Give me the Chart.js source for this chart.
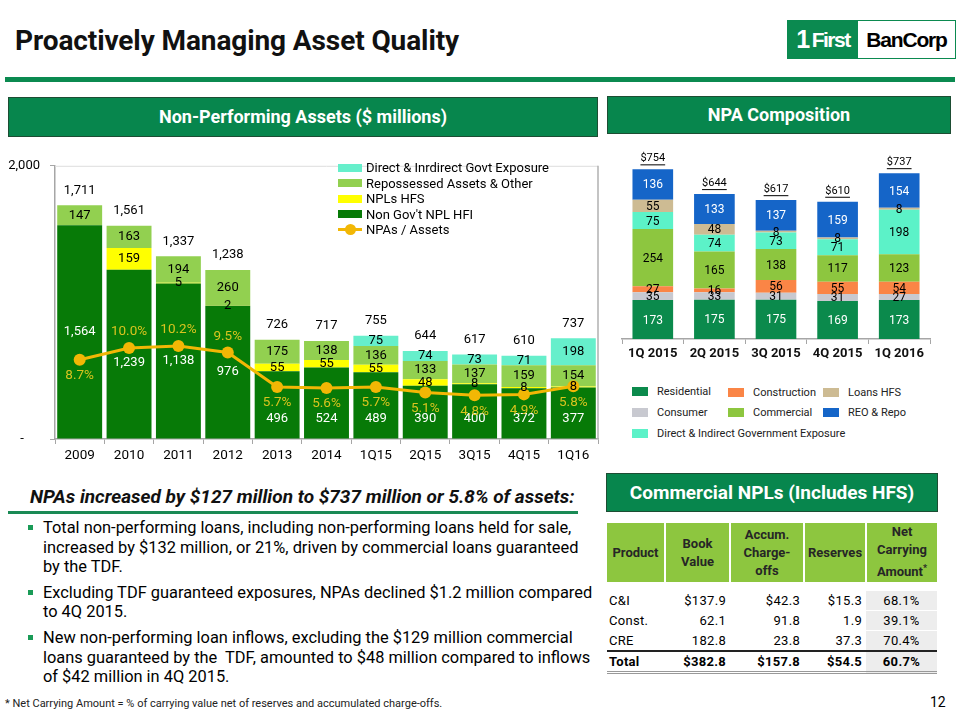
<!DOCTYPE html>
<html>
<head>
<meta charset="utf-8">
<script src="https://cdn.jsdelivr.net/npm/chart.js@4/dist/chart.umd.min.js"></script>
<style>
	body { margin: 0; background: #fff; }
	#slide { position: relative; width: 960px; height: 720px; overflow: hidden; font-family: Roboto, "Liberation Sans", sans-serif; color: #000; }
	.abs { position: absolute; }
	#title { left: 15px; top: 24px; font-size: 28px; font-weight: bold; color: #111; letter-spacing: -0.1px; }
	#rule { left: 5px; top: 77px; width: 950px; height: 5px; background: #0B8A50; }
	.hdr { background: #07864D; color: #fff; font-weight: bold; text-align: center; border: 1px solid #1d4d33; box-sizing: border-box; }
	#logo { left: 787px; top: 20px; width: 169px; height: 39px; border: 1px solid #0B8A50; box-sizing: border-box; display: flex; }
	#logo .g { width: 70px; background: #0B8A50; color: #fff; font: bold 21px "Liberation Sans", sans-serif; letter-spacing: -1.5px; display: flex; align-items: center; justify-content: center; }
	#logo .g b { font-size: 25px; margin-right: 3px; }
	#logo .w { flex: 1; color: #000; font: bold 21px "Liberation Sans", sans-serif; letter-spacing: -1.2px; display: flex; align-items: center; justify-content: center; }
	.leg { font-size: 13px; line-height: 15.5px; }
	.leg div { display: flex; align-items: center; white-space: nowrap; }
	.sw { display: inline-block; width: 24px; height: 8px; margin-right: 4px; }
	.leg2 { font-size: 11px; color: #222; }
	.leg2 .it { position: absolute; display: flex; align-items: center; white-space: nowrap; }
	.leg2 .sw { width: 16px; height: 9px; margin-right: 9px; }
	#bul { left: 22px; top: 518px; font-size: 16.4px; line-height: 19.6px; white-space: nowrap; }
	#bul p { margin: 0 0 6px 0; padding-left: 21px; position: relative; }
	#bul p:before { content: ""; position: absolute; left: 6px; top: 7px; width: 5px; height: 5px; background: #1A9B57; }
	table { border-collapse: collapse; font-size: 13px; }
	#tbl { left: 607px; top: 523px; width: 330px; }
	#tbl th { background: #8DC63F; color: #262626; font-weight: bold; height: 59px; border-left: 2px solid #fff; line-height: 18px; padding: 0; }
	#tbl th:first-child { border-left: none; }
	#tbl td { height: 19px; padding: 0 4px; text-align: right; letter-spacing: 0.3px; }
	#tbl td:first-child { text-align: left; padding-left: 2px; }
	#tbl td.nc { background: #EDEDED; text-align: center; border-bottom: 1px solid #fff; }
	#tbl tr.tot td { font-weight: bold; border-top: 2px solid #222; border-bottom: 3px double #999; }
</style>
</head>
<body>
<div id="slide">
	<div id="title" class="abs">Proactively Managing Asset Quality</div>
	<div id="logo" class="abs"><div class="g"><b>1</b>First</div><div class="w">BanCorp</div></div>
	<div id="rule" class="abs"></div>

	<div class="abs hdr" style="left:8px;top:97px;width:590px;height:40px;line-height:38px;font-size:18px;">Non-Performing Assets ($ millions)</div>
	<div class="abs hdr" style="left:607px;top:96px;width:344px;height:38px;line-height:36px;font-size:18px;">NPA Composition</div>

	<canvas id="npaChart" class="abs" style="left:0;top:148px;" width="610" height="326"></canvas>
	<div class="abs leg" style="left:338px;top:160px;">
		<div><span class="sw" style="background:#66EFCB"></span>Direct &amp; Inrdirect Govt Exposure</div>
		<div><span class="sw" style="background:#92D050"></span>Repossessed Assets &amp; Other</div>
		<div><span class="sw" style="background:#FFFF00"></span>NPLs HFS</div>
		<div><span class="sw" style="background:#077A07"></span>Non Gov't NPL HFI</div>
		<div><span class="sw" style="position:relative;background:none;border-top:3px solid #F2B705;height:0;"><span style="position:absolute;left:7px;top:-7px;width:11px;height:11px;border-radius:50%;background:#F2B705"></span></span>NPAs / Assets</div>
	</div>

	<canvas id="compChart" class="abs" style="left:612px;top:140px;" width="330" height="229"></canvas>
	<div class="abs leg2" style="left:0;top:0;">
		<div class="it" style="left:632px;top:385px;"><span class="sw" style="background:#0B8A4C"></span>Residential</div>
		<div class="it" style="left:728px;top:386px;"><span class="sw" style="background:#FA8546"></span>Construction</div>
		<div class="it" style="left:823px;top:386px;"><span class="sw" style="background:#CDBB93"></span>Loans HFS</div>
		<div class="it" style="left:632px;top:406px;"><span class="sw" style="background:#C8C9D0"></span>Consumer</div>
		<div class="it" style="left:728px;top:406px;"><span class="sw" style="background:#8DC63F"></span>Commercial</div>
		<div class="it" style="left:823px;top:406px;"><span class="sw" style="background:#1565C8"></span>REO &amp; Repo</div>
		<div class="it" style="left:632px;top:427px;"><span class="sw" style="background:#5CF2C8"></span>Direct &amp; Indirect Government Exposure</div>
	</div>

	<div class="abs" style="left:30px;top:485px;font-size:19px;font-weight:bold;font-style:italic;color:#111;">NPAs increased by $127 million to $737 million or 5.8% of assets:</div>
	<div class="abs" style="left:8px;top:511px;width:570px;height:3px;background:#1A8A55;"></div>
	<div id="bul" class="abs">
		<p>Total non-performing loans, including non-performing loans held for sale,<br>increased by $132 million, or 21%, driven by commercial loans guaranteed<br>by the TDF.</p>
		<p>Excluding TDF guaranteed exposures, NPAs declined $1.2 million compared<br>to 4Q 2015.</p>
		<p>New non-performing loan inflows, excluding the $129 million commercial<br>loans guaranteed by the&nbsp; TDF, amounted to $48 million compared to inflows<br>of $42 million in 4Q 2015.</p>
	</div>
	<div class="abs" style="left:5px;top:697px;font-size:11px;color:#222;">* Net Carrying Amount = % of carrying value net of reserves and accumulated charge-offs.</div>

	<div class="abs hdr" style="left:606px;top:473px;width:332px;height:39px;line-height:37px;font-size:19px;">Commercial NPLs (Includes HFS)</div>
	<table id="tbl" class="abs">
		<tr><th style="width:57px">Product</th><th style="width:63px">Book<br>Value</th><th style="width:72px">Accum.<br>Charge-<br>offs</th><th style="width:60px">Reserves</th><th>Net<br>Carrying<br>Amount<sup style="font-size:9px">*</sup></th></tr>
		<tr><td colspan="5" style="height:9px;padding:0"></td></tr>
		<tr><td>C&amp;I</td><td>$137.9</td><td>$42.3</td><td>$15.3</td><td class="nc">68.1%</td></tr>
		<tr><td>Const.</td><td>62.1</td><td>91.8</td><td>1.9</td><td class="nc">39.1%</td></tr>
		<tr><td>CRE</td><td>182.8</td><td>23.8</td><td>37.3</td><td class="nc">70.4%</td></tr>
		<tr class="tot"><td>Total</td><td>$382.8</td><td>$157.8</td><td>$54.5</td><td class="nc">60.7%</td></tr>
	</table>
	<div class="abs" style="left:930px;top:694px;font-size:14px;">12</div>
</div>

<script>
//* Datos: Non-Performing Assets
const npaPeriods = ["2009", "2010", "2011", "2012", "2013", "2014", "1Q15", "2Q15", "3Q15", "4Q15", "1Q16"];
const nonGovNplHfi = [1564, 1239, 1138, 976, 496, 524, 489, 390, 400, 372, 377];
const nplsHfs = [0, 159, 5, 2, 55, 55, 55, 48, 8, 8, 8];
const repossessedOther = [147, 163, 194, 260, 175, 138, 136, 133, 137, 159, 154];
const govtExposure = [0, 0, 0, 0, 0, 0, 75, 74, 73, 71, 198];
const npaTotals = [1711, 1561, 1337, 1238, 726, 717, 755, 644, 617, 610, 737];
const npaToAssets = [8.7, 10.0, 10.2, 9.5, 5.7, 5.6, 5.7, 5.1, 4.8, 4.9, 5.8];
const npaYTicks = [0, 2000];

//* Datos: NPA Composition
const compQuarters = ["1Q 2015", "2Q 2015", "3Q 2015", "4Q 2015", "1Q 2016"];
const residential = [173, 175, 175, 169, 173];
const consumer = [35, 33, 31, 31, 27];
const construction = [27, 16, 56, 55, 54];
const commercial = [254, 165, 138, 117, 123];
const govtDirectIndirect = [75, 74, 73, 71, 198];
const loansHfs = [55, 48, 8, 8, 8];
const reoRepo = [136, 133, 137, 159, 154];
const compTotals = [754, 644, 617, 610, 737];

const FONT = 'Roboto, "Liberation Sans", sans-serif';
Chart.defaults.font.family = FONT;
Chart.defaults.animation = false;
Chart.defaults.plugins.legend.display = false;
Chart.defaults.plugins.tooltip.enabled = false;

const fmt = (v) => v.toLocaleString("en-US");

//* Marco superior y derecho del area del grafico
const frame = {
	id: "frame",
	beforeDatasetsDraw(chart) {
		const a = chart.chartArea, c = chart.ctx;
		c.save();
		c.strokeStyle = "#DDDDDD";
		c.lineWidth = 1;
		c.beginPath();
		c.moveTo(a.left, a.top + 0.5);
		c.lineTo(a.right, a.top + 0.5);
		c.stroke();
		c.strokeStyle = "#B0B0B0";
		c.lineWidth = 1.5;
		c.beginPath();
		c.moveTo(a.right, a.top);
		c.lineTo(a.right, a.bottom);
		c.stroke();
		c.restore();
	},
};

//* Etiquetas del grafico NPA
const npaLabels = {
	id: "npaLabels",
	afterDatasetsDraw(chart) {
		const c = chart.ctx;
		const yS = chart.scales.y;
		const lineIdx = chart.data.datasets.length - 1;
		const pts = chart.getDatasetMeta(lineIdx).data;
		c.save();
		c.textAlign = "center";
		c.textBaseline = "middle";
		c.font = "13px " + FONT;
		chart.data.datasets.forEach((ds, di) => {
			if (ds.type === "line") return;
			chart.getDatasetMeta(di).data.forEach((bar, i) => {
				const v = ds.data[i];
				if (!v) return;
				const h = bar.base - bar.y;
				let y = (bar.y + bar.base) / 2;
				if (di === 0) {
					if (h < 100) y = bar.base - 20;
					else if (Math.abs(y - pts[i].y) < 12) y = pts[i].y + 15;
				}
				c.fillStyle = di === 0 ? "#FFFFFF" : "#000000";
				c.fillText(fmt(v), bar.x, y);
			});
		});
		//* Totales
		c.fillStyle = "#000";
		chart.getDatasetMeta(0).data.forEach((bar, i) => {
			c.fillText(fmt(npaTotals[i]), bar.x, yS.getPixelForValue(npaTotals[i]) - 15);
		});
		//* Porcentajes
		c.fillStyle = "#D9C41F";
		c.font = "13.5px " + FONT;
		pts.forEach((pt, i) => {
			const above = i >= 1 && i <= 3;
			c.fillText(npaToAssets[i].toFixed(1) + "%", pt.x, pt.y + (above ? -16 : 16));
		});
		c.restore();
	},
};

new Chart(document.getElementById("npaChart"), {
	type: "bar",
	data: {
		labels: npaPeriods,
		datasets: [
			{ label: "Non Gov't NPL HFI", data: nonGovNplHfi, backgroundColor: "#077A07", order: 1 },
			{ label: "NPLs HFS", data: nplsHfs, backgroundColor: "#FFFF00", order: 1 },
			{ label: "Repossessed Assets & Other", data: repossessedOther, backgroundColor: "#92D050", order: 1 },
			{ label: "Direct & Inrdirect Govt Exposure", data: govtExposure, backgroundColor: "#66EFCB", order: 1 },
			{
				type: "line",
				label: "NPAs / Assets",
				data: npaToAssets,
				yAxisID: "y2",
				borderColor: "#F2B705",
				backgroundColor: "#F2B705",
				borderWidth: 3,
				pointRadius: 6,
				pointBackgroundColor: "#F2B705",
				pointBorderWidth: 0,
				order: 0,
			},
		],
	},
	options: {
		responsive: false,
		layout: { padding: { left: 0, right: 12, top: 10, bottom: 0 } },
		datasets: { bar: { barPercentage: 0.91, categoryPercentage: 1 } },
		scales: {
			x: {
				stacked: true,
				afterFit: (s) => { s.height = 35; },
				grid: { drawOnChartArea: false, drawTicks: true, tickLength: 5, color: "#A6A6A6" },
				border: { color: "#A6A6A6", width: 1.5 },
				ticks: { color: "#000", font: { size: 13.5 }, padding: 4, maxRotation: 0, autoSkip: false },
			},
			y: {
				stacked: true,
				min: npaYTicks[0],
				max: npaYTicks[1],
				afterFit: (s) => { s.width = 55; },
				afterBuildTicks: (s) => { s.ticks = npaYTicks.map((v) => ({ value: v })); },
				grid: { drawOnChartArea: false, drawTicks: true, tickLength: 5, color: "#A6A6A6" },
				border: { color: "#A6A6A6", width: 1.5 },
				ticks: {
					color: "#000",
					font: { size: 13 },
					padding: 10,
					callback: (v) => (v === 0 ? "-     " : fmt(v)),
				},
			},
			y2: { display: false, min: 0, max: 30 },
		},
	},
	plugins: [frame, npaLabels],
});

//* Etiquetas del grafico de composicion
const compLabels = {
	id: "compLabels",
	afterDatasetsDraw(chart) {
		const c = chart.ctx;
		const yS = chart.scales.y;
		c.save();
		c.textAlign = "center";
		c.textBaseline = "middle";
		c.font = "12px " + FONT;
		chart.data.datasets.forEach((ds, di) => {
			chart.getDatasetMeta(di).data.forEach((bar, i) => {
				const v = ds.data[i];
				if (!v) return;
				c.fillStyle = di === 0 || di === 6 ? "#FFFFFF" : "#000000";
				c.fillText(v, bar.x, (bar.y + bar.base) / 2 + 1);
			});
		});
		c.fillStyle = "#000";
		c.strokeStyle = "#000";
		c.lineWidth = 1;
		c.font = "11px " + FONT;
		chart.getDatasetMeta(0).data.forEach((bar, i) => {
			const t = "$" + compTotals[i];
			const y = yS.getPixelForValue(compTotals[i]) - 11;
			c.fillText(t, bar.x, y);
			const w = c.measureText(t).width;
			c.beginPath();
			c.moveTo(bar.x - w / 2, y + 6.5);
			c.lineTo(bar.x + w / 2, y + 6.5);
			c.stroke();
		});
		c.restore();
	},
};

new Chart(document.getElementById("compChart"), {
	type: "bar",
	data: {
		labels: compQuarters,
		datasets: [
			{ label: "Residential", data: residential, backgroundColor: "#0B8A4C" },
			{ label: "Consumer", data: consumer, backgroundColor: "#C8C9D0" },
			{ label: "Construction", data: construction, backgroundColor: "#FA8546" },
			{ label: "Commercial", data: commercial, backgroundColor: "#8DC63F" },
			{ label: "Direct & Indirect Government Exposure", data: govtDirectIndirect, backgroundColor: "#5CF2C8" },
			{ label: "Loans HFS", data: loansHfs, backgroundColor: "#CDBB93" },
			{ label: "REO & Repo", data: reoRepo, backgroundColor: "#1565C8" },
		],
	},
	options: {
		responsive: false,
		layout: { padding: { left: 10, right: 12, top: 19, bottom: 0 } },
		datasets: { bar: { barPercentage: 0.66, categoryPercentage: 1 } },
		scales: {
			x: {
				stacked: true,
				afterFit: (s) => { s.height = 30; },
				grid: { drawOnChartArea: false, drawTicks: true, tickLength: 5, color: "#A6A6A6" },
				border: { color: "#A6A6A6", width: 1.5 },
				ticks: { color: "#111", font: { size: 13, weight: "bold" }, padding: 2, maxRotation: 0, autoSkip: false },
			},
			y: { stacked: true, display: false, min: 0, max: 800 },
		},
	},
	plugins: [compLabels],
});
</script>
</body>
</html>
